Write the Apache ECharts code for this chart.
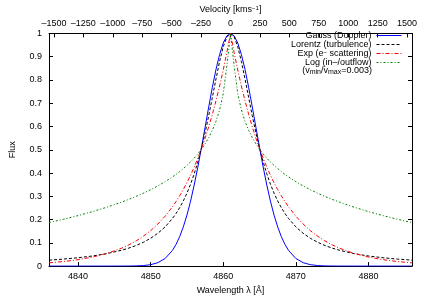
<!DOCTYPE html>
<html><head><meta charset="utf-8">
<script src="https://cdn.jsdelivr.net/npm/echarts@6/dist/echarts.min.js"></script>
<style>html,body{margin:0;padding:0;background:#fff}#c{width:428px;height:300px}</style>
</head><body><div id="c"></div>
<script>
// Wavelength samples [Å]
const wavelength = [4836, 4838, 4840, 4842, 4844, 4846, 4847, 4848, 4849, 4850, 4851, 4852, 4853, 4853.5, 4854, 4854.5, 4855, 4855.5, 4856, 4856.5, 4857, 4857.5, 4858, 4858.5, 4859, 4859.5, 4860, 4860.5, 4861,
  4861.5, 4862, 4862.5, 4863, 4863.5, 4864, 4864.5, 4865, 4865.5, 4866, 4866.5, 4867, 4867.5, 4868, 4868.5, 4869, 4870, 4871, 4872, 4873, 4874, 4875, 4876, 4878, 4880, 4882, 4884, 4886];
const gauss = [0, 0, 0, 0, 0, 0.0001, 0.0003, 0.0008, 0.0023, 0.0061, 0.0147, 0.0328, 0.0673, 0.0933, 0.1266, 0.1683, 0.2191, 0.2792, 0.3484, 0.4257, 0.5093, 0.5965, 0.6841, 0.7683, 0.8448, 0.9095, 0.9587, 0.9895, 1,
  0.9895, 0.9587, 0.9095, 0.8448, 0.7683, 0.6841, 0.5965, 0.5093, 0.4257, 0.3484, 0.2792, 0.2191, 0.1683, 0.1266, 0.0933, 0.0673, 0.0328, 0.0147, 0.0061, 0.0023, 0.0008, 0.0003, 0.0001, 0, 0, 0, 0, 0];
const lorentz = [0.0256, 0.0301, 0.0359, 0.0435, 0.0538, 0.0681, 0.0774, 0.0886, 0.1024, 0.1196, 0.1412, 0.1687, 0.2043, 0.2261, 0.2512, 0.2801, 0.3134, 0.3520, 0.3966, 0.4480, 0.5067, 0.5729, 0.6462, 0.7245, 0.8043, 0.8796, 0.9426, 0.9850, 1,
  0.9850, 0.9426, 0.8796, 0.8043, 0.7245, 0.6462, 0.5729, 0.5067, 0.4480, 0.3966, 0.3520, 0.3134, 0.2801, 0.2512, 0.2261, 0.2043, 0.1687, 0.1412, 0.1196, 0.1024, 0.0886, 0.0774, 0.0681, 0.0538, 0.0435, 0.0359, 0.0301, 0.0256];
const expScatter = [0.0139, 0.0196, 0.0276, 0.0388, 0.0547, 0.0769, 0.0913, 0.1083, 0.1285, 0.1525, 0.1809, 0.2146, 0.2547, 0.2774, 0.3021, 0.3291, 0.3585, 0.3905, 0.4253, 0.4633, 0.5046, 0.5497, 0.5987, 0.6522, 0.7104, 0.7738, 0.8428, 0.9181, 1,
  0.9181, 0.8428, 0.7738, 0.7104, 0.6522, 0.5987, 0.5497, 0.5046, 0.4633, 0.4253, 0.3905, 0.3585, 0.3291, 0.3021, 0.2774, 0.2547, 0.2146, 0.1809, 0.1525, 0.1285, 0.1083, 0.0913, 0.0769, 0.0547, 0.0388, 0.0276, 0.0196, 0.0139];
const logFlow = [0.1870, 0.2013, 0.2170, 0.2342, 0.2534, 0.2749, 0.2868, 0.2995, 0.3133, 0.3283, 0.3447, 0.3629, 0.3831, 0.3942, 0.4061, 0.4189, 0.4326, 0.4476, 0.4640, 0.4822, 0.5025, 0.5254, 0.5520, 0.5834, 0.6218, 0.6713, 0.7411, 0.8604, 1,
  0.8604, 0.7411, 0.6713, 0.6218, 0.5834, 0.5520, 0.5254, 0.5025, 0.4822, 0.4640, 0.4476, 0.4326, 0.4189, 0.4061, 0.3942, 0.3831, 0.3629, 0.3447, 0.3283, 0.3133, 0.2995, 0.2868, 0.2749, 0.2534, 0.2342, 0.2170, 0.2013, 0.1870];
const wavelengthTicks = [4840, 4850, 4860, 4870, 4880];
const velocityTicks = [-1500, -1250, -1000, -750, -500, -250, 0, 250, 500, 750, 1000, 1250, 1500];
const seriesNames = ['Gauss (Doppler)', 'Lorentz (turbulence)', 'Exp (e- scattering)', 'Log (in-/outflow)'];
const legendLabels = ['Gauss (Doppler)', 'Lorentz (turbulence)', 'Exp (e{sup|−} scattering)', 'Log (in–/outflow)'];
const legendNote = '(v{sub|min}/v{sub|max}=0.003)';

const FONT = '"Liberation Sans", Arial, Helvetica, sans-serif';
const TXT = '#000';
const chart = echarts.init(document.getElementById('c'), null, {renderer: 'canvas'});
const pairs = arr => wavelength.map((w, i) => [w, arr[i]]);
const mkSeries = (name, arr, color, type) => ({
  name, type: 'line', data: pairs(arr), xAxisIndex: 0, yAxisIndex: 0,
  symbol: 'none', showSymbol: false, smooth: false, animation: false,
  lineStyle: {color, width: 1, type}, itemStyle: {color}
});
const axisCommon = {
  axisLine: {show: true, onZero: false, lineStyle: {color: '#000', width: 1}},
  axisTick: {show: true, inside: true, length: 4, lineStyle: {color: '#000'}},
  splitLine: {show: false},
  axisLabel: {color: TXT, fontFamily: FONT, fontSize: 9}
};
chart.setOption({
  animation: false,
  backgroundColor: '#fff',
  grid: {left: 46, right: 16, top: 27, bottom: 28, containLabel: false},
  xAxis: [
    Object.assign({}, axisCommon, {
      type: 'value', position: 'bottom', min: 4836, max: 4886,
      name: 'Wavelength λ [Å]', nameLocation: 'middle', nameGap: 17,
      nameTextStyle: {color: TXT, fontFamily: FONT, fontSize: 9},
      axisTick: Object.assign({}, axisCommon.axisTick, {customValues: wavelengthTicks}),
      axisLabel: Object.assign({}, axisCommon.axisLabel, {customValues: wavelengthTicks, margin: 6,
        formatter: v => String(v)})
    }),
    Object.assign({}, axisCommon, {
      type: 'value', position: 'top', min: -1541.8, max: 1541.8,
      name: 'Velocity [kms{sup|−1}]', nameLocation: 'middle', nameGap: 16,
      nameTextStyle: {color: TXT, fontFamily: FONT, fontSize: 9,
        rich: {sup: {fontSize: 6, fontFamily: FONT, color: TXT, verticalAlign: 'top', padding: [0, 0, 4, 0]}}},
      axisTick: Object.assign({}, axisCommon.axisTick, {customValues: velocityTicks}),
      axisLabel: Object.assign({}, axisCommon.axisLabel, {customValues: velocityTicks, margin: 5,
        formatter: v => String(v).replace('-', '–')})
    })
  ],
  yAxis: [
    Object.assign({}, axisCommon, {
      type: 'value', position: 'left', min: 0, max: 1, interval: 0.1,
      name: 'Flux', nameLocation: 'middle', nameGap: 32,
      nameTextStyle: {color: TXT, fontFamily: FONT, fontSize: 9},
      axisLabel: Object.assign({}, axisCommon.axisLabel, {margin: 7})
    }),
    Object.assign({}, axisCommon, {
      type: 'value', position: 'right', min: 0, max: 1, interval: 0.1,
      axisLabel: {show: false}
    })
  ],
  legend: {
    orient: 'vertical', right: 26, top: 31, align: 'right',
    itemWidth: 25, itemHeight: 9, itemGap: 0, padding: 0,
    data: seriesNames,
    formatter: name => legendLabels[seriesNames.indexOf(name)],
    itemStyle: {opacity: 0},
    lineStyle: {width: 1},
    textStyle: {color: TXT, fontFamily: FONT, fontSize: 9, lineHeight: 9,
      rich: {sup: {fontSize: 6, fontFamily: FONT, color: TXT, verticalAlign: 'top', padding: [0, 0, 3, 0]}}},
    selectedMode: false
  },
  graphic: [{
    type: 'text', x: 372, y: 70.5,
    style: {
      text: legendNote, align: 'right', verticalAlign: 'middle',
      fill: TXT, font: '9px ' + FONT,
      rich: {sub: {fontSize: 7, fontFamily: FONT, fill: TXT, verticalAlign: 'bottom', padding: [3, 0, 0, 0]}}
    }
  }],
  series: [
    mkSeries(seriesNames[0], gauss, '#0000ff', 'solid'),
    mkSeries(seriesNames[1], lorentz, '#000000', [3, 2]),
    mkSeries(seriesNames[2], expScatter, '#ff0000', [4, 2, 1, 2]),
    mkSeries(seriesNames[3], logFlow, '#008000', [2, 2, 1, 2])
  ]
});
</script></body></html>
